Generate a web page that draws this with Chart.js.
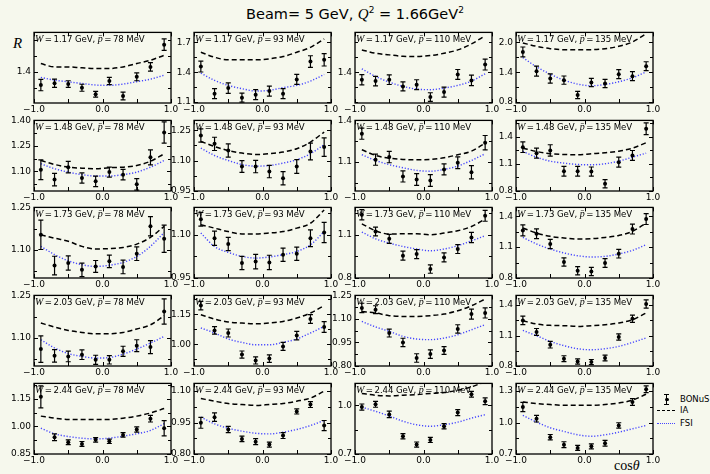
<!DOCTYPE html>
<html>
<head>
<meta charset="utf-8">
<script src="https://cdn.jsdelivr.net/npm/chart.js@4.4.0/dist/chart.umd.min.js"></script>
<style>
  html, body { margin: 0; padding: 0; background: #f6f8ed; }
  body { width: 710px; height: 474px; position: relative; overflow: hidden;
         font-family: 'DejaVu Sans', sans-serif; color: #000; }
  canvas { position: absolute; }
  .ann { position: absolute; font-size: 8.6px; line-height: 11px; white-space: nowrap; letter-spacing: -0.1px; }
  .m { font-family: 'Liberation Serif', serif; font-style: italic; font-size: 10px; }
  #title { position: absolute; left: 0; width: 710px; top: 5px; text-align: center; font-size: 14.5px; }
  #title .m { font-size: 15px; }
  #ylab { position: absolute; left: 13px; top: 35px; font-family: 'Liberation Serif', serif; font-style: italic; font-size: 15px; }
  #xlab { position: absolute; left: 614px; top: 458px; font-family: 'Liberation Serif', serif; font-size: 14px; }
  .legtxt { position: absolute; left: 680px; font-size: 8.5px; line-height: 10px; }
  .legline { position: absolute; left: 657px; width: 18px; height: 0; }
  .eb { position: absolute; background: #000; }
</style>
</head>
<body>
<div id="title">Beam= 5 GeV, <span class="m">Q</span><sup style="font-size:9px">2</sup> = 1.66GeV<sup style="font-size:9px">2</sup></div>
<div id="ylab">R</div>
<div id="xlab">cos<i>θ</i></div>

<!-- legend -->
<div class="eb" style="left:666px;top:394px;width:1.3px;height:11px"></div>
<div class="eb" style="left:664.3px;top:394px;width:5px;height:1.3px"></div>
<div class="eb" style="left:664.3px;top:404px;width:5px;height:1.3px"></div>
<div class="eb" style="left:665px;top:397.5px;width:3.5px;height:3.5px;border-radius:50%"></div>
<div class="legtxt" style="top:394px">BONuS</div>
<div class="legline" style="top:410px;border-top:1.5px dashed #000"></div>
<div class="legtxt" style="top:405px">IA</div>
<div class="legline" style="top:423px;border-top:1.5px dotted #4646ff"></div>
<div class="legtxt" style="top:418px">FSI</div>

<script>
const wLabels = ['1.17', '1.48', '1.73', '2.03', '2.44'];
const pLabels = ['78', '93', '110', '135'];
const cosTheta = [-0.9, -0.7, -0.5, -0.3, -0.1, 0.1, 0.3, 0.5, 0.7, 0.9];

// BONuS ratio R, [row W][col p][cosTheta]
const bonusR = [
  [[1.317,1.328,1.323,1.300,1.259,1.342,1.248,1.369,1.431,1.571],
   [1.457,1.184,1.240,1.144,1.174,1.210,1.184,1.327,1.507,1.524],
   [1.324,1.310,1.324,1.257,1.274,1.150,1.200,1.377,1.317,1.477],
   [1.806,1.420,1.273,1.240,0.940,1.193,1.173,1.360,1.320,1.520]],
  [[1.110,1.052,1.125,1.061,1.042,1.096,1.081,1.024,1.183,1.329],
   [1.225,1.183,1.150,1.070,1.070,1.045,1.012,1.070,1.145,1.167],
   [1.304,1.116,1.135,0.995,0.973,0.966,1.046,1.094,1.026,1.239],
   [1.286,1.220,1.250,1.020,1.020,1.016,0.880,1.120,1.194,1.490]],
  [[1.153,1.044,1.053,1.029,1.041,1.059,1.039,1.086,1.183,1.139],
   [1.154,1.088,1.068,1.002,1.007,1.004,1.031,1.034,1.088,1.108],
   [1.239,1.123,1.072,0.955,0.966,0.862,0.943,1.001,1.081,1.232],
   [1.262,1.230,1.130,0.955,0.871,0.864,0.946,1.036,1.275,1.372]],
  [[1.060,1.036,1.034,1.040,1.022,1.022,1.052,1.072,1.067,1.193],
   [1.194,1.070,1.057,0.949,0.920,0.929,0.990,1.044,1.127,1.087],
   [1.170,1.159,1.010,0.950,0.851,0.876,0.899,1.036,1.131,1.138],
   [1.249,1.135,1.010,0.872,0.845,0.839,0.879,1.085,1.265,1.410]],
  [[1.161,0.941,0.914,0.905,0.927,0.919,0.954,0.983,1.042,0.990],
   [0.949,0.976,0.917,0.872,0.859,0.845,0.888,1.003,1.036,0.936],
   [0.989,1.006,0.944,0.809,0.758,0.787,0.871,0.955,1.068,1.025],
   [1.148,1.037,0.860,0.789,0.758,0.773,0.802,0.972,1.196,1.318]]
];

const bonusErr = [
  [[0.036,0.026,0.021,0.022,0.018,0.023,0.024,0.025,0.027,0.036],
   [0.055,0.050,0.053,0.045,0.050,0.050,0.050,0.050,0.058,0.062],
   [0.052,0.048,0.048,0.045,0.050,0.043,0.050,0.050,0.053,0.055],
   [0.100,0.100,0.093,0.083,0.073,0.083,0.083,0.090,0.090,0.090]],
  [[0.058,0.037,0.034,0.030,0.031,0.029,0.031,0.034,0.044,0.062],
   [0.033,0.033,0.033,0.029,0.031,0.031,0.033,0.034,0.042,0.046],
   [0.040,0.040,0.041,0.040,0.042,0.042,0.040,0.042,0.048,0.052],
   [0.059,0.055,0.063,0.054,0.054,0.050,0.046,0.055,0.055,0.065]],
  [[0.052,0.033,0.025,0.024,0.021,0.022,0.024,0.024,0.034,0.048],
   [0.024,0.025,0.023,0.023,0.025,0.025,0.023,0.023,0.029,0.035],
   [0.035,0.030,0.031,0.031,0.031,0.029,0.031,0.031,0.035,0.038],
   [0.053,0.047,0.045,0.040,0.040,0.040,0.042,0.042,0.048,0.053]],
  [[0.047,0.022,0.019,0.017,0.016,0.015,0.018,0.021,0.023,0.045],
   [0.021,0.019,0.020,0.018,0.018,0.019,0.020,0.021,0.022,0.027],
   [0.030,0.025,0.025,0.027,0.027,0.027,0.025,0.027,0.032,0.032],
   [0.041,0.034,0.033,0.029,0.026,0.025,0.029,0.031,0.035,0.041]],
  [[0.060,0.018,0.013,0.013,0.012,0.012,0.012,0.014,0.018,0.041],
   [0.026,0.020,0.015,0.013,0.014,0.012,0.014,0.012,0.014,0.024],
   [0.019,0.018,0.020,0.016,0.016,0.016,0.016,0.018,0.018,0.021],
   [0.045,0.032,0.026,0.028,0.024,0.024,0.027,0.026,0.032,0.032]]
];

// IA (plane wave) curve
const iaR = [
  [[1.452,1.431,1.431,1.425,1.421,1.421,1.431,1.452,1.473,1.504],
   [1.600,1.550,1.524,1.524,1.524,1.534,1.557,1.600,1.650,1.734],
   [1.624,1.590,1.574,1.560,1.557,1.567,1.590,1.624,1.684,1.767],
   [1.987,1.920,1.873,1.853,1.853,1.853,1.873,1.920,2.007,2.173]],
  [[1.164,1.141,1.125,1.119,1.116,1.122,1.125,1.135,1.160,1.203],
   [1.195,1.170,1.150,1.137,1.130,1.134,1.142,1.159,1.192,1.242],
   [1.188,1.147,1.127,1.118,1.116,1.118,1.130,1.152,1.178,1.236],
   [1.275,1.238,1.213,1.205,1.202,1.213,1.224,1.242,1.275,1.335]],
  [[1.153,1.141,1.130,1.112,1.103,1.104,1.108,1.120,1.144,1.183],
   [1.135,1.123,1.111,1.103,1.103,1.106,1.111,1.123,1.140,1.186],
   [1.176,1.128,1.105,1.107,1.107,1.100,1.112,1.128,1.157,1.209],
   [1.285,1.236,1.204,1.188,1.178,1.181,1.194,1.213,1.252,1.334]],
  [[1.152,1.138,1.126,1.119,1.114,1.114,1.119,1.131,1.146,1.178],
   [1.148,1.127,1.112,1.107,1.103,1.107,1.115,1.132,1.157,1.194],
   [1.148,1.138,1.121,1.116,1.116,1.121,1.131,1.152,1.184,1.227],
   [1.246,1.213,1.200,1.197,1.190,1.197,1.206,1.223,1.256,1.322]],
  [[1.056,1.045,1.038,1.037,1.037,1.038,1.045,1.056,1.073,1.097],
   [1.065,1.052,1.041,1.036,1.032,1.036,1.041,1.052,1.067,1.100],
   [1.073,1.062,1.058,1.062,1.066,1.073,1.079,1.093,1.114,1.145],
   [1.196,1.181,1.171,1.165,1.165,1.165,1.171,1.187,1.213,1.270]]
];

// FSI curve
const fsiR = [
  [[1.365,1.348,1.337,1.327,1.317,1.315,1.323,1.338,1.354,1.379],
   [1.390,1.317,1.267,1.234,1.210,1.217,1.244,1.267,1.310,1.377],
   [1.434,1.357,1.300,1.257,1.230,1.224,1.240,1.267,1.310,1.384],
   [1.693,1.507,1.360,1.240,1.160,1.127,1.153,1.207,1.287,1.407]],
  [[1.145,1.116,1.096,1.081,1.073,1.073,1.081,1.096,1.125,1.164],
   [1.162,1.125,1.100,1.080,1.072,1.075,1.087,1.104,1.134,1.179],
   [1.152,1.111,1.080,1.058,1.039,1.033,1.046,1.070,1.111,1.159],
   [1.238,1.175,1.131,1.109,1.094,1.091,1.102,1.131,1.175,1.220]],
  [[1.112,1.083,1.061,1.047,1.041,1.045,1.055,1.076,1.112,1.161],
   [1.106,1.059,1.039,1.025,1.019,1.023,1.031,1.042,1.065,1.111],
   [1.119,1.072,1.042,1.019,1.001,0.989,1.001,1.024,1.058,1.093],
   [1.194,1.130,1.081,1.043,1.016,1.004,1.010,1.033,1.068,1.123]],
  [[1.093,1.064,1.044,1.034,1.028,1.030,1.042,1.060,1.081,1.105],
   [1.082,1.057,1.027,1.010,0.998,0.998,1.010,1.027,1.057,1.090],
   [1.084,1.049,1.021,0.989,0.972,0.968,0.978,0.999,1.031,1.063],
   [1.150,1.098,1.042,1.000,0.970,0.960,0.970,0.993,1.032,1.076]],
  [[0.990,0.960,0.945,0.936,0.932,0.936,0.947,0.960,0.978,1.015],
   [0.976,0.944,0.923,0.909,0.899,0.896,0.904,0.917,0.936,0.960],
   [0.989,0.963,0.934,0.902,0.880,0.871,0.880,0.896,0.921,0.942],
   [1.068,1.004,0.950,0.915,0.883,0.869,0.883,0.908,0.940,0.972]]
];

// y axis limits per panel
const yRange = [
  [[1.204,1.648],[1.09,1.80],[1.09,1.80],[0.78,2.20]],
  [[0.985,1.40],[0.948,1.30],[0.89,1.40],[0.80,1.583]],
  [[1.00,1.25],[0.95,1.195],[0.80,1.29],[0.80,1.485]],
  [[1.00,1.25],[0.892,1.245],[0.80,1.25],[0.80,1.495]],
  [[0.85,1.234],[0.80,1.137],[0.70,1.135],[0.70,1.373]]
];
// tick marks per panel
const yTicks = [
  [[1.3,1.4,1.5,1.6],[1.1,1.25,1.4,1.55,1.7],[1.1,1.25,1.4,1.55,1.7],[0.8,1.1,1.4,1.7,2.0]],
  [[1.025,1.1,1.175,1.25,1.325,1.4],[0.95,1.025,1.1,1.175,1.25],[0.95,1.1,1.25,1.4],[0.8,0.95,1.1,1.25,1.4,1.55]],
  [[1.025,1.1,1.175,1.25],[0.95,1.025,1.1,1.175],[0.8,0.95,1.1,1.25],[0.8,0.95,1.1,1.25,1.4]],
  [[1.025,1.1,1.175,1.25],[0.925,1.0,1.075,1.15,1.225],[0.8,0.875,0.95,1.025,1.1,1.175,1.25],[0.8,0.95,1.1,1.25,1.4]],
  [[0.85,0.925,1.0,1.075,1.15,1.225],[0.8,0.875,0.95,1.025,1.1],[0.7,0.85,1.0],[0.7,0.85,1.0,1.15,1.3]]
];
// labelled ticks per panel
const yTickLabels = [
  [['1.4'],['1.1','1.4','1.7'],['1.4'],['0.8','1.4','2.0']],
  [['1.10','1.25','1.40'],['0.95','1.10','1.25'],['1.1','1.4'],['0.8','1.1','1.4']],
  [['1.10','1.25'],['0.95','1.10'],['0.8','1.1'],['0.8','1.1','1.4']],
  [['1.10','1.25'],['1.00','1.15'],['0.80','0.95','1.10','1.25'],['0.8','1.1','1.4']],
  [['0.85','1.00','1.15'],['0.80','0.95','1.10'],['0.7','1.0'],['0.7','1.0','1.3']]
];
const xTicks = [-1, -0.5, 0, 0.5, 1];
const xTickLabels = { '-1': '\u22121.0', '0': '0.0', '1': '1.0' };

// layout of the 5x4 grid (pixels)
const plotLeft = [34, 194, 355, 516];
const plotTop = [32, 120, 207, 295, 383];
const PW = 137, PH = 71;
const AXW = 36, PADT = 8, PADR = 14, AXH = 16;

Chart.defaults.font.family = "'DejaVu Sans', sans-serif";
Chart.defaults.color = '#000';

// box round the axes, with inward tick marks on all four sides
const framePlugin = {
  id: 'frame',
  afterDraw(chart) {
    const { ctx, chartArea: a, scales: { x, y } } = chart;
    const labelled = chart.options.plugins.frame.labelled;
    ctx.save();
    ctx.strokeStyle = '#000';
    ctx.lineWidth = 1;
    ctx.beginPath();
    y.ticks.forEach(t => {
      const py = Math.round(y.getPixelForValue(t.value)) + 0.5;
      const len = labelled.includes(t.value) ? 4 : 3;
      ctx.moveTo(a.left, py); ctx.lineTo(a.left + len, py);
      ctx.moveTo(a.right, py); ctx.lineTo(a.right - len, py);
    });
    x.ticks.forEach(t => {
      const px = Math.round(x.getPixelForValue(t.value)) + 0.5;
      ctx.moveTo(px, a.bottom); ctx.lineTo(px, a.bottom - 4);
      ctx.moveTo(px, a.top); ctx.lineTo(px, a.top + 4);
    });
    ctx.stroke();
    ctx.lineWidth = 1.3;
    ctx.strokeRect(a.left, a.top, a.width, a.height);
    ctx.restore();
  }
};

const errorBarPlugin = {
  id: 'errorBars',
  afterDatasetsDraw(chart) {
    const { ctx, chartArea: a, scales: { x, y } } = chart;
    const ds = chart.data.datasets[0];
    ctx.save();
    ctx.beginPath();
    ctx.rect(a.left, a.top, a.width, a.height);
    ctx.clip();
    ctx.strokeStyle = '#000';
    ctx.lineWidth = 1.2;
    ds.data.forEach((pt, i) => {
      const e = ds.errors[i];
      const px = x.getPixelForValue(pt.x);
      const y1 = y.getPixelForValue(pt.y - e);
      const y2 = y.getPixelForValue(pt.y + e);
      ctx.beginPath();
      ctx.moveTo(px, y1); ctx.lineTo(px, y2);
      ctx.moveTo(px - 2.5, y1); ctx.lineTo(px + 2.5, y1);
      ctx.moveTo(px - 2.5, y2); ctx.lineTo(px + 2.5, y2);
      ctx.stroke();
    });
    ctx.restore();
  }
};

function makePanel(r, c) {
  const canvas = document.createElement('canvas');
  canvas.width = AXW + PW + PADR;
  canvas.height = PADT + PH + AXH;
  canvas.style.left = (plotLeft[c] - AXW) + 'px';
  canvas.style.top = (plotTop[r] - PADT) + 'px';
  document.body.appendChild(canvas);

  const labels = yTickLabels[r][c];
  const labelVals = labels.map(Number);
  const pts = cosTheta.map((x, i) => ({ x, y: bonusR[r][c][i] }));
  const curve = arr => cosTheta.map((x, i) => ({ x, y: arr[r][c][i] }));

  new Chart(canvas, {
    type: 'scatter',
    data: {
      datasets: [
        { data: pts, errors: bonusErr[r][c], backgroundColor: '#000', borderColor: '#000',
          pointRadius: 2, pointBorderWidth: 0 },
        { data: curve(iaR), showLine: true, borderColor: '#000', borderWidth: 1.5,
          borderDash: [5, 3], pointRadius: 0, cubicInterpolationMode: 'monotone' },
        { data: curve(fsiR), showLine: true, borderColor: '#4646ff', borderWidth: 1.4,
          borderDash: [1.2, 1.8], pointRadius: 0, cubicInterpolationMode: 'monotone' }
      ]
    },
    options: {
      responsive: false,
      animation: false,
      events: [],
      devicePixelRatio: 1,
      layout: { autoPadding: false, padding: { top: PADT, right: PADR, left: 0, bottom: 0 } },
      plugins: {
        legend: { display: false },
        tooltip: { enabled: false },
        frame: { labelled: labelVals }
      },
      scales: {
        x: {
          type: 'linear', min: -1, max: 1,
          grid: { display: false, drawTicks: false },
          border: { display: false },
          afterBuildTicks: s => { s.ticks = xTicks.map(v => ({ value: v })); },
          afterFit: s => { s.height = AXH; },
          ticks: {
            padding: 1, autoSkip: false, maxRotation: 0, font: { size: 9 },
            callback: v => xTickLabels[String(v)] || ''
          }
        },
        y: {
          type: 'linear', min: yRange[r][c][0], max: yRange[r][c][1],
          grid: { display: false, drawTicks: false },
          border: { display: false },
          afterBuildTicks: s => { s.ticks = yTicks[r][c].map(v => ({ value: v })); },
          afterFit: s => { s.width = AXW; },
          ticks: {
            padding: 3, autoSkip: false, font: { size: 9 },
            callback: v => {
              const k = labelVals.findIndex(l => Math.abs(l - v) < 1e-6);
              return k >= 0 ? labels[k] : '';
            }
          }
        }
      }
    },
    plugins: [framePlugin, errorBarPlugin]
  });

  const ann = document.createElement('div');
  ann.className = 'ann';
  ann.style.left = (plotLeft[c] + 1) + 'px';
  ann.style.top = (plotTop[r] + 1) + 'px';
  ann.innerHTML = `<span class="m">W</span>\u2009=\u2009${wLabels[r]} GeV, ` +
                  `<span class="m">p\u0304</span>\u2009=\u2009${pLabels[c]} MeV`;
  document.body.appendChild(ann);
}

for (let r = 0; r < 5; r++) {
  for (let c = 0; c < 4; c++) makePanel(r, c);
}
</script>
</body>
</html>
